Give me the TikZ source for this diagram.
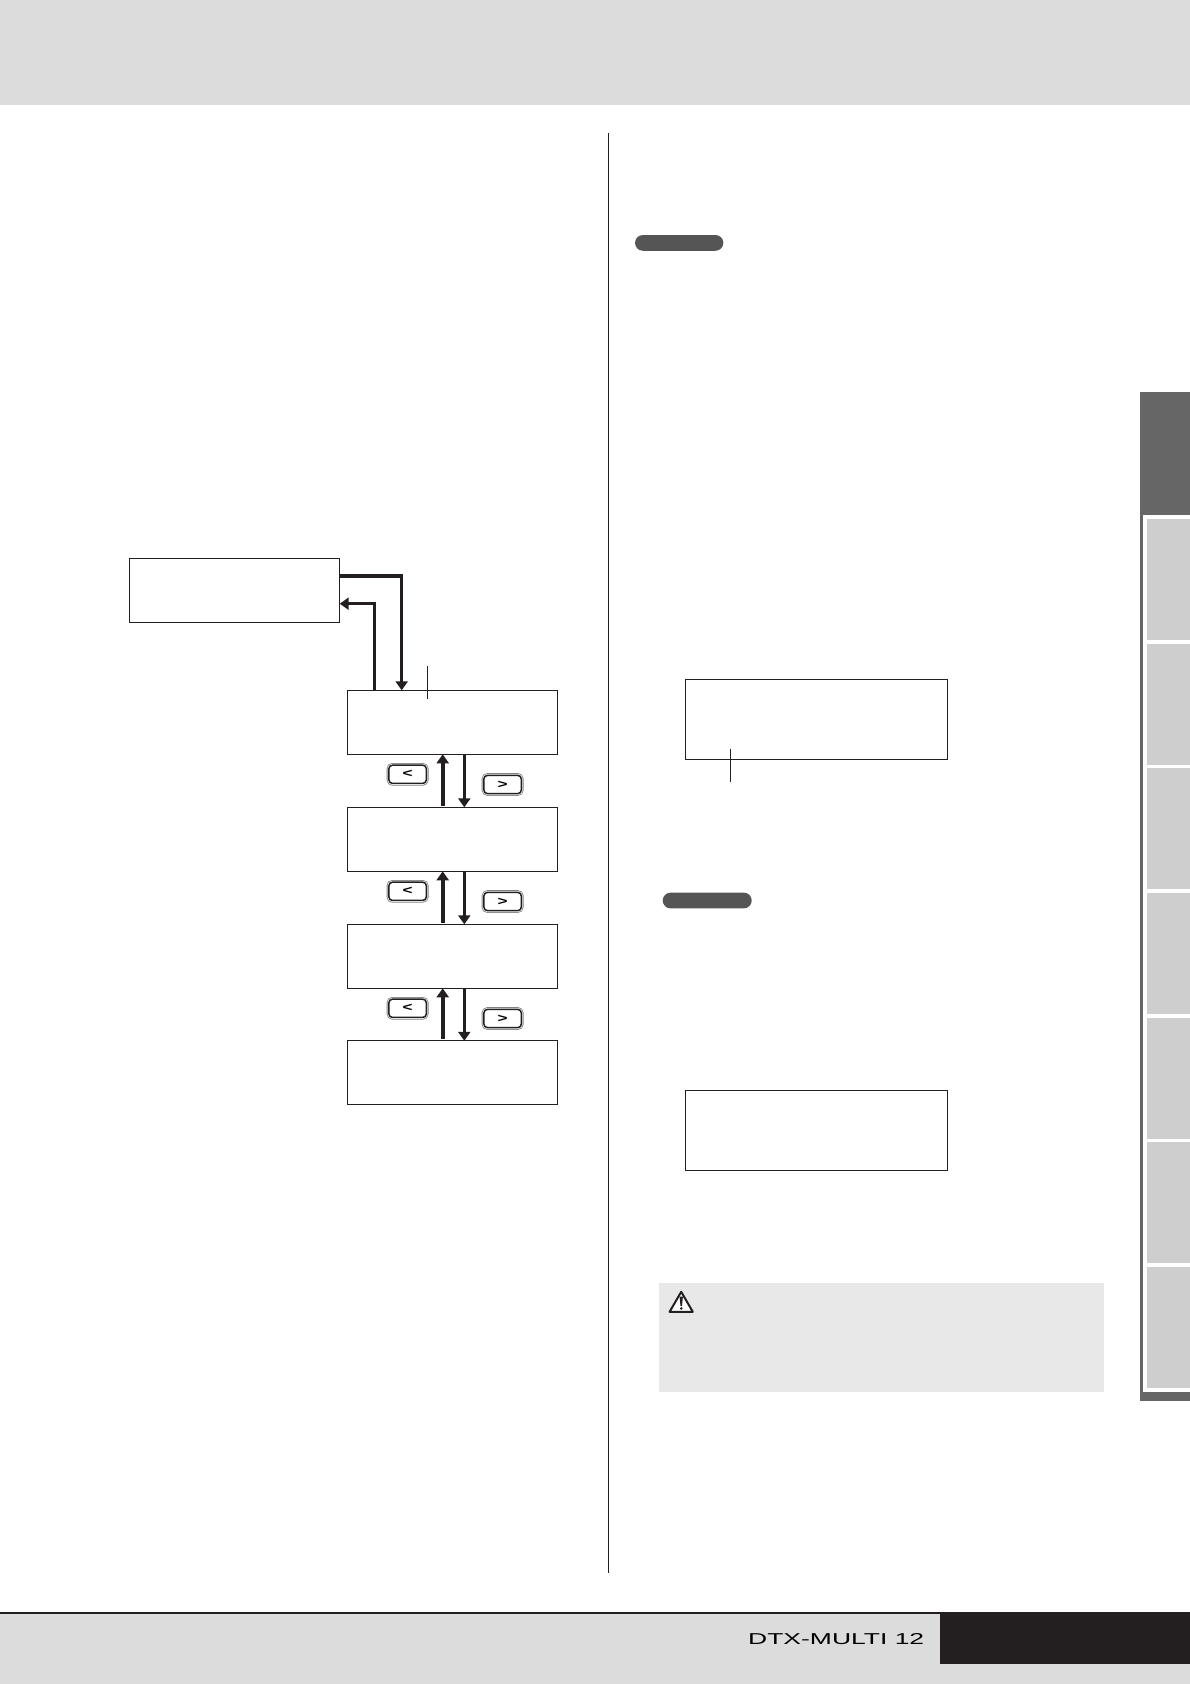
\documentclass[tikz,border=0pt]{standalone}
\usepackage{fontspec}
\setmainfont{Liberation Sans}
\usetikzlibrary{arrows.meta}
\definecolor{ink}{HTML}{231F20}
\definecolor{band}{HTML}{DCDCDC}
\definecolor{tabdark}{HTML}{666666}
\definecolor{tablight}{HTML}{CECECE}
\definecolor{pillc}{HTML}{555555}
\definecolor{cautionbg}{HTML}{E8E8E8}
\tikzset{
  lcd/.style={draw=ink,line width=1.1pt,fill=white,inner sep=0pt,outer sep=0pt,minimum width=210.4pt,minimum height=64pt},
  lcdwide/.style={draw=ink,line width=1.1pt,fill=white,inner sep=0pt,outer sep=0pt,minimum width=262.6pt,minimum height=80pt},
  btn/.style={draw=ink,line width=1.5pt,fill=white,rounded corners=3.5pt,inner sep=0pt,outer sep=0pt,minimum width=37.4pt,minimum height=18.2pt,
    preaction={draw=gray,line width=4.4pt,rounded corners=3.5pt},
    preaction={draw=white,line width=2.8pt,rounded corners=3.5pt}},
  flowb/.style={draw=ink,line width=3.4pt,-{Triangle[width=12pt,length=9pt]}},
  flowu/.style={draw=ink,line width=4pt,shorten <=1.5pt,-{Triangle[width=12pt,length=9pt]}},
  flowm/.style={draw=ink,line width=3.2pt,-{Triangle[width=12pt,length=9pt]}},
  tick/.style={draw=ink,line width=.9pt},
  pillbar/.style={fill=pillc,rounded corners=7.8pt,inner sep=0pt,minimum height=15.7pt},
  tabbox/.style={fill=tablight},
}
\newcommand{\glyphL}{\resizebox{10pt}{7.3pt}{\textbf{<}}}
\newcommand{\glyphR}{\resizebox{10pt}{7.3pt}{\textbf{>}}}
\begin{document}
\begin{tikzpicture}[x=1pt,y=-1pt]
\useasboundingbox (0,0) rectangle (1190,1684);
% page furniture
\fill[band] (0,0) rectangle (1190,104.5);
\draw[ink,line width=1pt] (608.5,133) -- (608.5,1573);
\fill[band] (0,1612) rectangle (1190,1684);
\fill[ink] (0,1612) rectangle (1190,1614);
\fill[ink] (940,1612) rectangle (1190,1663.7);
\node[inner sep=0pt,outer sep=0pt] (logo) at (836.2,1639) {\resizebox{176pt}{11pt}{DTX-MULTI 12}};
% side tabs
\fill[tabdark] (1140,392) rectangle (1190,1401);
\fill[white] (1143,515) rectangle (1190,1392);
\foreach \i in {0,...,6}{
  \fill[tabbox] (1147,519+124.67*\i) rectangle (1190,640+124.67*\i);
}
\fill[tabdark] (1140,392) rectangle (1190,515);
% left flow
\node[lcd] (boxA) at (234.5,590.3) {};
\node[lcd] (boxB) at (452.5,722.3) {};
\node[lcd] (boxC) at (452.5,839.3) {};
\node[lcd] (boxD) at (452.5,956.3) {};
\node[lcd] (boxE) at (452.5,1072.8) {};
\coordinate (outA) at (401.7,576);
\coordinate (inA) at (374.3,603.7);
\draw[flowb] (boxA.east |- outA) -- (outA) -- (boxB.north -| outA);
\draw[flowb] (boxB.north -| inA) -- (inA) -- (boxA.east |- inA);
\coordinate (tickB) at (427.3,666);
\coordinate (tickBend) at (427.3,698.7);
\draw[tick] (tickB) -- (tickBend);
\coordinate (upx) at (442.7,0);
\coordinate (dnx) at (464.3,0);
\draw[flowu] (boxC.north -| upx) -- (boxB.south -| upx);
\draw[flowm] (boxB.south -| dnx) -- (boxC.north -| dnx);
\draw[flowu] (boxD.north -| upx) -- (boxC.south -| upx);
\draw[flowm] (boxC.south -| dnx) -- (boxD.north -| dnx);
\draw[flowu] (boxE.north -| upx) -- (boxD.south -| upx);
\draw[flowm] (boxD.south -| dnx) -- (boxE.north -| dnx);
\node[btn] (lbtnA) at (407.6,774.3) {\glyphL};
\node[btn] (rbtnA) at (502.6,784.5) {\glyphR};
\node[btn] (lbtnB) at (407.6,891.3) {\glyphL};
\node[btn] (rbtnB) at (502.6,901.5) {\glyphR};
\node[btn] (lbtnC) at (407.6,1008.3) {\glyphL};
\node[btn] (rbtnC) at (502.6,1018.5) {\glyphR};
% right column
\node[pillbar,minimum width=88.3pt] (pillA) at (679.2,242.9) {};
\node[pillbar,minimum width=89pt] (pillB) at (707.2,900.5) {};
\node[lcdwide] (boxR) at (816.5,719.3) {};
\coordinate (tickR) at (730.3,748.6);
\coordinate (tickRend) at (730.3,781.9);
\draw[tick] (tickR) -- (tickRend);
\node[lcdwide] (boxS) at (816.5,1130.3) {};
% caution panel
\fill[cautionbg] (659,1283) rectangle (1104,1391.7);
\draw[ink,line width=2pt,line join=round,fill=white] (681.2,1291.8) -- (692.8,1311.8) -- (669.6,1311.8) -- cycle;
\fill[ink] (679.6,1296.5) -- (682.9,1296.5) -- (682,1306) -- (680.5,1306) -- cycle;
\fill[ink] (681.3,1308.4) circle (1.4);
\end{tikzpicture}
\end{document}
